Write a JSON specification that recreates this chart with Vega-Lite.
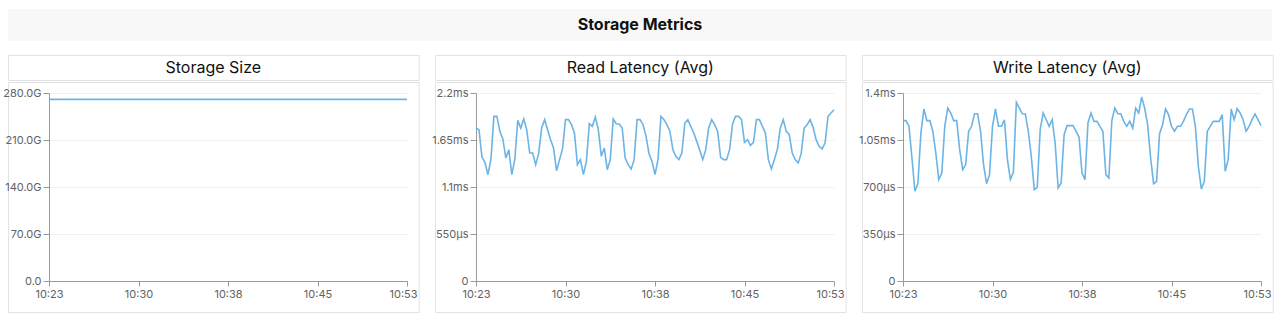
{
  "$schema": "https://vega.github.io/schema/vega-lite/v6.json",
  "padding": {"left": 2, "top": 9, "right": 0, "bottom": 9},
  "background": "white",
  "config": {
    "font": "Inter",
    "view": {"stroke": "#e2e2e2", "strokeWidth": 1},
    "axis": {"labelFont": "Inter", "labelFontSize": 11, "labelColor": "#626262", "domainColor": "#9a9a9a", "tickColor": "#9a9a9a", "gridColor": "#f1f1f1", "labelPadding": 2},
    "axisY": {"tickSize": 6},
    "axisX": {"tickSize": 5, "labelFlush": false, "labelOffset": {"condition": {"test": "datum.index == 1", "value": -4}, "value": 0}}
  },
  "datasets": {
    "lat": [
      {"t":"2024-01-01T10:23:00","read":1.790,"write":1.194},
      {"t":"2024-01-01T10:23:15","read":1.771,"write":1.194},
      {"t":"2024-01-01T10:23:30","read":1.451,"write":1.152},
      {"t":"2024-01-01T10:23:45","read":1.389,"write":0.916},
      {"t":"2024-01-01T10:24:00","read":1.244,"write":0.668},
      {"t":"2024-01-01T10:24:15","read":1.420,"write":0.725},
      {"t":"2024-01-01T10:24:30","read":1.927,"write":1.102},
      {"t":"2024-01-01T10:24:45","read":1.927,"write":1.281},
      {"t":"2024-01-01T10:25:00","read":1.751,"write":1.194},
      {"t":"2024-01-01T10:25:15","read":1.662,"write":1.194},
      {"t":"2024-01-01T10:25:30","read":1.439,"write":1.115},
      {"t":"2024-01-01T10:25:45","read":1.537,"write":0.953},
      {"t":"2024-01-01T10:26:00","read":1.244,"write":0.755},
      {"t":"2024-01-01T10:26:15","read":1.420,"write":0.804},
      {"t":"2024-01-01T10:26:30","read":1.880,"write":1.152},
      {"t":"2024-01-01T10:26:45","read":1.790,"write":1.288},
      {"t":"2024-01-01T10:27:00","read":1.896,"write":1.251},
      {"t":"2024-01-01T10:27:15","read":1.771,"write":1.194},
      {"t":"2024-01-01T10:27:30","read":1.498,"write":1.194},
      {"t":"2024-01-01T10:27:45","read":1.498,"write":0.978},
      {"t":"2024-01-01T10:28:00","read":1.361,"write":0.829},
      {"t":"2024-01-01T10:28:15","read":1.490,"write":0.866},
      {"t":"2024-01-01T10:28:30","read":1.790,"write":1.115},
      {"t":"2024-01-01T10:28:45","read":1.888,"write":1.152},
      {"t":"2024-01-01T10:29:00","read":1.771,"write":1.246},
      {"t":"2024-01-01T10:29:15","read":1.654,"write":1.246},
      {"t":"2024-01-01T10:29:30","read":1.556,"write":1.115},
      {"t":"2024-01-01T10:29:45","read":1.291,"write":0.866},
      {"t":"2024-01-01T10:30:00","read":1.420,"write":0.725},
      {"t":"2024-01-01T10:30:15","read":1.545,"write":0.792},
      {"t":"2024-01-01T10:30:30","read":1.888,"write":1.152},
      {"t":"2024-01-01T10:30:45","read":1.888,"write":1.281},
      {"t":"2024-01-01T10:31:00","read":1.829,"write":1.152},
      {"t":"2024-01-01T10:31:15","read":1.732,"write":1.152},
      {"t":"2024-01-01T10:31:30","read":1.361,"write":1.201},
      {"t":"2024-01-01T10:31:45","read":1.420,"write":0.904},
      {"t":"2024-01-01T10:32:00","read":1.244,"write":0.755},
      {"t":"2024-01-01T10:32:15","read":1.400,"write":0.809},
      {"t":"2024-01-01T10:32:30","read":1.841,"write":1.331},
      {"t":"2024-01-01T10:32:45","read":1.810,"write":1.288},
      {"t":"2024-01-01T10:33:00","read":1.919,"write":1.246},
      {"t":"2024-01-01T10:33:15","read":1.771,"write":1.244},
      {"t":"2024-01-01T10:33:30","read":1.459,"write":1.115},
      {"t":"2024-01-01T10:33:45","read":1.556,"write":0.928},
      {"t":"2024-01-01T10:34:00","read":1.303,"write":0.680},
      {"t":"2024-01-01T10:34:15","read":1.420,"write":0.698},
      {"t":"2024-01-01T10:34:30","read":1.896,"write":1.132},
      {"t":"2024-01-01T10:34:45","read":1.841,"write":1.251},
      {"t":"2024-01-01T10:35:00","read":1.837,"write":1.201},
      {"t":"2024-01-01T10:35:15","read":1.790,"write":1.152},
      {"t":"2024-01-01T10:35:30","read":1.439,"write":1.201},
      {"t":"2024-01-01T10:35:45","read":1.361,"write":1.028},
      {"t":"2024-01-01T10:36:00","read":1.311,"write":0.693},
      {"t":"2024-01-01T10:36:15","read":1.420,"write":0.730},
      {"t":"2024-01-01T10:36:30","read":1.888,"write":1.090},
      {"t":"2024-01-01T10:36:45","read":1.888,"write":1.157},
      {"t":"2024-01-01T10:37:00","read":1.829,"write":1.157},
      {"t":"2024-01-01T10:37:15","read":1.693,"write":1.157},
      {"t":"2024-01-01T10:37:30","read":1.490,"write":1.115},
      {"t":"2024-01-01T10:37:45","read":1.400,"write":1.072},
      {"t":"2024-01-01T10:38:00","read":1.244,"write":0.804},
      {"t":"2024-01-01T10:38:15","read":1.420,"write":0.755},
      {"t":"2024-01-01T10:38:30","read":1.927,"write":1.177},
      {"t":"2024-01-01T10:38:45","read":1.888,"write":1.251},
      {"t":"2024-01-01T10:39:00","read":1.829,"write":1.189},
      {"t":"2024-01-01T10:39:15","read":1.751,"write":1.189},
      {"t":"2024-01-01T10:39:30","read":1.537,"write":1.152},
      {"t":"2024-01-01T10:39:45","read":1.459,"write":1.115},
      {"t":"2024-01-01T10:40:00","read":1.420,"write":0.792},
      {"t":"2024-01-01T10:40:15","read":1.498,"write":0.767},
      {"t":"2024-01-01T10:40:30","read":1.849,"write":1.194},
      {"t":"2024-01-01T10:40:45","read":1.888,"write":1.288},
      {"t":"2024-01-01T10:41:00","read":1.810,"write":1.246},
      {"t":"2024-01-01T10:41:15","read":1.732,"write":1.246},
      {"t":"2024-01-01T10:41:30","read":1.634,"write":1.189},
      {"t":"2024-01-01T10:41:45","read":1.529,"write":1.152},
      {"t":"2024-01-01T10:42:00","read":1.420,"write":1.189},
      {"t":"2024-01-01T10:42:15","read":1.537,"write":1.139},
      {"t":"2024-01-01T10:42:30","read":1.790,"write":1.288},
      {"t":"2024-01-01T10:42:45","read":1.888,"write":1.251},
      {"t":"2024-01-01T10:43:00","read":1.829,"write":1.370},
      {"t":"2024-01-01T10:43:15","read":1.751,"write":1.288},
      {"t":"2024-01-01T10:43:30","read":1.447,"write":1.164},
      {"t":"2024-01-01T10:43:45","read":1.420,"write":0.916},
      {"t":"2024-01-01T10:44:00","read":1.420,"write":0.725},
      {"t":"2024-01-01T10:44:15","read":1.537,"write":0.742},
      {"t":"2024-01-01T10:44:30","read":1.837,"write":1.097},
      {"t":"2024-01-01T10:44:45","read":1.927,"write":1.164},
      {"t":"2024-01-01T10:45:00","read":1.927,"write":1.281},
      {"t":"2024-01-01T10:45:15","read":1.888,"write":1.239},
      {"t":"2024-01-01T10:45:30","read":1.623,"write":1.152},
      {"t":"2024-01-01T10:45:45","read":1.654,"write":1.115},
      {"t":"2024-01-01T10:46:00","read":1.588,"write":1.152},
      {"t":"2024-01-01T10:46:15","read":1.623,"write":1.152},
      {"t":"2024-01-01T10:46:30","read":1.888,"write":1.189},
      {"t":"2024-01-01T10:46:45","read":1.888,"write":1.239},
      {"t":"2024-01-01T10:47:00","read":1.810,"write":1.281},
      {"t":"2024-01-01T10:47:15","read":1.732,"write":1.281},
      {"t":"2024-01-01T10:47:30","read":1.420,"write":1.152},
      {"t":"2024-01-01T10:47:45","read":1.311,"write":0.854},
      {"t":"2024-01-01T10:48:00","read":1.420,"write":0.685},
      {"t":"2024-01-01T10:48:15","read":1.537,"write":0.742},
      {"t":"2024-01-01T10:48:30","read":1.790,"write":1.115},
      {"t":"2024-01-01T10:48:45","read":1.888,"write":1.152},
      {"t":"2024-01-01T10:49:00","read":1.751,"write":1.189},
      {"t":"2024-01-01T10:49:15","read":1.712,"write":1.189},
      {"t":"2024-01-01T10:49:30","read":1.498,"write":1.189},
      {"t":"2024-01-01T10:49:45","read":1.420,"write":1.239},
      {"t":"2024-01-01T10:50:00","read":1.381,"write":0.817},
      {"t":"2024-01-01T10:50:15","read":1.490,"write":0.904},
      {"t":"2024-01-01T10:50:30","read":1.790,"write":1.281},
      {"t":"2024-01-01T10:50:45","read":1.829,"write":1.201},
      {"t":"2024-01-01T10:51:00","read":1.888,"write":1.283},
      {"t":"2024-01-01T10:51:15","read":1.798,"write":1.251},
      {"t":"2024-01-01T10:51:30","read":1.654,"write":1.201},
      {"t":"2024-01-01T10:51:45","read":1.576,"write":1.115},
      {"t":"2024-01-01T10:52:00","read":1.545,"write":1.152},
      {"t":"2024-01-01T10:52:15","read":1.615,"write":1.201},
      {"t":"2024-01-01T10:52:30","read":1.927,"write":1.244},
      {"t":"2024-01-01T10:52:45","read":1.966,"write":1.201},
      {"t":"2024-01-01T10:53:00","read":2.005,"write":1.157}
    ],
    "size": [
      {"t":"2024-01-01T10:23:00","size":270.5},
      {"t":"2024-01-01T10:25:30","size":270.5},
      {"t":"2024-01-01T10:28:00","size":270.5},
      {"t":"2024-01-01T10:30:30","size":270.5},
      {"t":"2024-01-01T10:33:00","size":270.5},
      {"t":"2024-01-01T10:35:30","size":270.5},
      {"t":"2024-01-01T10:38:00","size":270.5},
      {"t":"2024-01-01T10:40:30","size":270.5},
      {"t":"2024-01-01T10:43:00","size":270.5},
      {"t":"2024-01-01T10:45:30","size":270.5},
      {"t":"2024-01-01T10:48:00","size":270.5},
      {"t":"2024-01-01T10:50:30","size":270.5},
      {"t":"2024-01-01T10:53:00","size":270.5}
    ]
  },
  "vconcat": [
    {
      "width": 1264,
      "height": 32,
      "view": {"fill": "#f8f8f8", "stroke": null},
      "data": {"values": [{"label": "Storage Metrics"}]},
      "mark": {"type": "text", "font": "Inter", "fontSize": 16, "fontWeight": "bold", "color": "#111111"},
      "encoding": {"text": {"field": "label"}}
    },
    {
      "hconcat": [
        {
          "spacing": 0,
          "vconcat": [
            {
              "width": 410.67,
              "height": 25,
              "view": {"stroke": "#e2e2e2", "fill": "white"},
              "data": {"values": [{"label": "Storage Size"}]},
              "mark": {"type": "text", "font": "Inter", "fontSize": 16, "color": "#111111"},
              "encoding": {"text": {"field": "label"}}
            },
            {
              "width": 410.67,
              "height": 230,
              "data": {"name": "size"},
              "mark": {"type": "line", "color": "#6cb4e6", "strokeWidth": 1.6},
              "encoding": {
                "x": {"field": "t", "type": "temporal",
                  "scale": {"domain": [{"year":2024,"month":1,"date":1,"hours":10,"minutes":23},{"year":2024,"month":1,"date":1,"hours":10,"minutes":53}], "range": [41, 399], "nice": false},
                  "axis": {"title": null, "grid": false, "offset": -31, "format": "%H:%M",
                    "values": [{"year":2024,"month":1,"date":1,"hours":10,"minutes":23},{"year":2024,"month":1,"date":1,"hours":10,"minutes":30,"seconds":30},{"year":2024,"month":1,"date":1,"hours":10,"minutes":38},{"year":2024,"month":1,"date":1,"hours":10,"minutes":45,"seconds":30},{"year":2024,"month":1,"date":1,"hours":10,"minutes":53}]}},
                "y": {"field": "size", "type": "quantitative",
                  "scale": {"domain": [0, 280], "range": [199, 11], "nice": false},
                  "axis": {"title": null, "grid": true, "offset": -41, "values": [0, 70, 140, 210, 280],
                    "labelExpr": "datum.value == 0 ? '0.0' : format(datum.value, '.1f') + 'G'"}}
              }
            }
          ]
        },
        {
          "spacing": 0,
          "vconcat": [
            {
              "width": 410.67,
              "height": 25,
              "view": {"stroke": "#e2e2e2", "fill": "white"},
              "data": {"values": [{"label": "Read Latency (Avg)"}]},
              "mark": {"type": "text", "font": "Inter", "fontSize": 16, "color": "#111111"},
              "encoding": {"text": {"field": "label"}}
            },
            {
              "width": 410.67,
              "height": 230,
              "data": {"name": "lat"},
              "mark": {"type": "line", "color": "#6cb4e6", "strokeWidth": 1.6},
              "encoding": {
                "x": {"field": "t", "type": "temporal",
                  "scale": {"domain": [{"year":2024,"month":1,"date":1,"hours":10,"minutes":23},{"year":2024,"month":1,"date":1,"hours":10,"minutes":53}], "range": [41, 399], "nice": false},
                  "axis": {"title": null, "grid": false, "offset": -31, "format": "%H:%M",
                    "values": [{"year":2024,"month":1,"date":1,"hours":10,"minutes":23},{"year":2024,"month":1,"date":1,"hours":10,"minutes":30,"seconds":30},{"year":2024,"month":1,"date":1,"hours":10,"minutes":38},{"year":2024,"month":1,"date":1,"hours":10,"minutes":45,"seconds":30},{"year":2024,"month":1,"date":1,"hours":10,"minutes":53}]}},
                "y": {"field": "read", "type": "quantitative",
                  "scale": {"domain": [0, 2.2], "range": [199, 11], "nice": false},
                  "axis": {"title": null, "grid": true, "offset": -41, "values": [0, 0.55, 1.1, 1.65, 2.2],
                    "labelExpr": "datum.value == 0 ? '0' : datum.value < 1 ? format(datum.value * 1000, '.0f') + 'µs' : datum.value + 'ms'"}}
              }
            }
          ]
        },
        {
          "spacing": 0,
          "vconcat": [
            {
              "width": 410.67,
              "height": 25,
              "view": {"stroke": "#e2e2e2", "fill": "white"},
              "data": {"values": [{"label": "Write Latency (Avg)"}]},
              "mark": {"type": "text", "font": "Inter", "fontSize": 16, "color": "#111111"},
              "encoding": {"text": {"field": "label"}}
            },
            {
              "width": 410.67,
              "height": 230,
              "data": {"name": "lat"},
              "mark": {"type": "line", "color": "#6cb4e6", "strokeWidth": 1.6},
              "encoding": {
                "x": {"field": "t", "type": "temporal",
                  "scale": {"domain": [{"year":2024,"month":1,"date":1,"hours":10,"minutes":23},{"year":2024,"month":1,"date":1,"hours":10,"minutes":53}], "range": [41, 399], "nice": false},
                  "axis": {"title": null, "grid": false, "offset": -31, "format": "%H:%M",
                    "values": [{"year":2024,"month":1,"date":1,"hours":10,"minutes":23},{"year":2024,"month":1,"date":1,"hours":10,"minutes":30,"seconds":30},{"year":2024,"month":1,"date":1,"hours":10,"minutes":38},{"year":2024,"month":1,"date":1,"hours":10,"minutes":45,"seconds":30},{"year":2024,"month":1,"date":1,"hours":10,"minutes":53}]}},
                "y": {"field": "write", "type": "quantitative",
                  "scale": {"domain": [0, 1.4], "range": [199, 11], "nice": false},
                  "axis": {"title": null, "grid": true, "offset": -41, "values": [0, 0.35, 0.7, 1.05, 1.4],
                    "labelExpr": "datum.value == 0 ? '0' : datum.value < 1 ? format(datum.value * 1000, '.0f') + 'µs' : datum.value + 'ms'"}}
              }
            }
          ]
        }
      ],
      "spacing": 11
    }
  ],
  "spacing": 13
}
